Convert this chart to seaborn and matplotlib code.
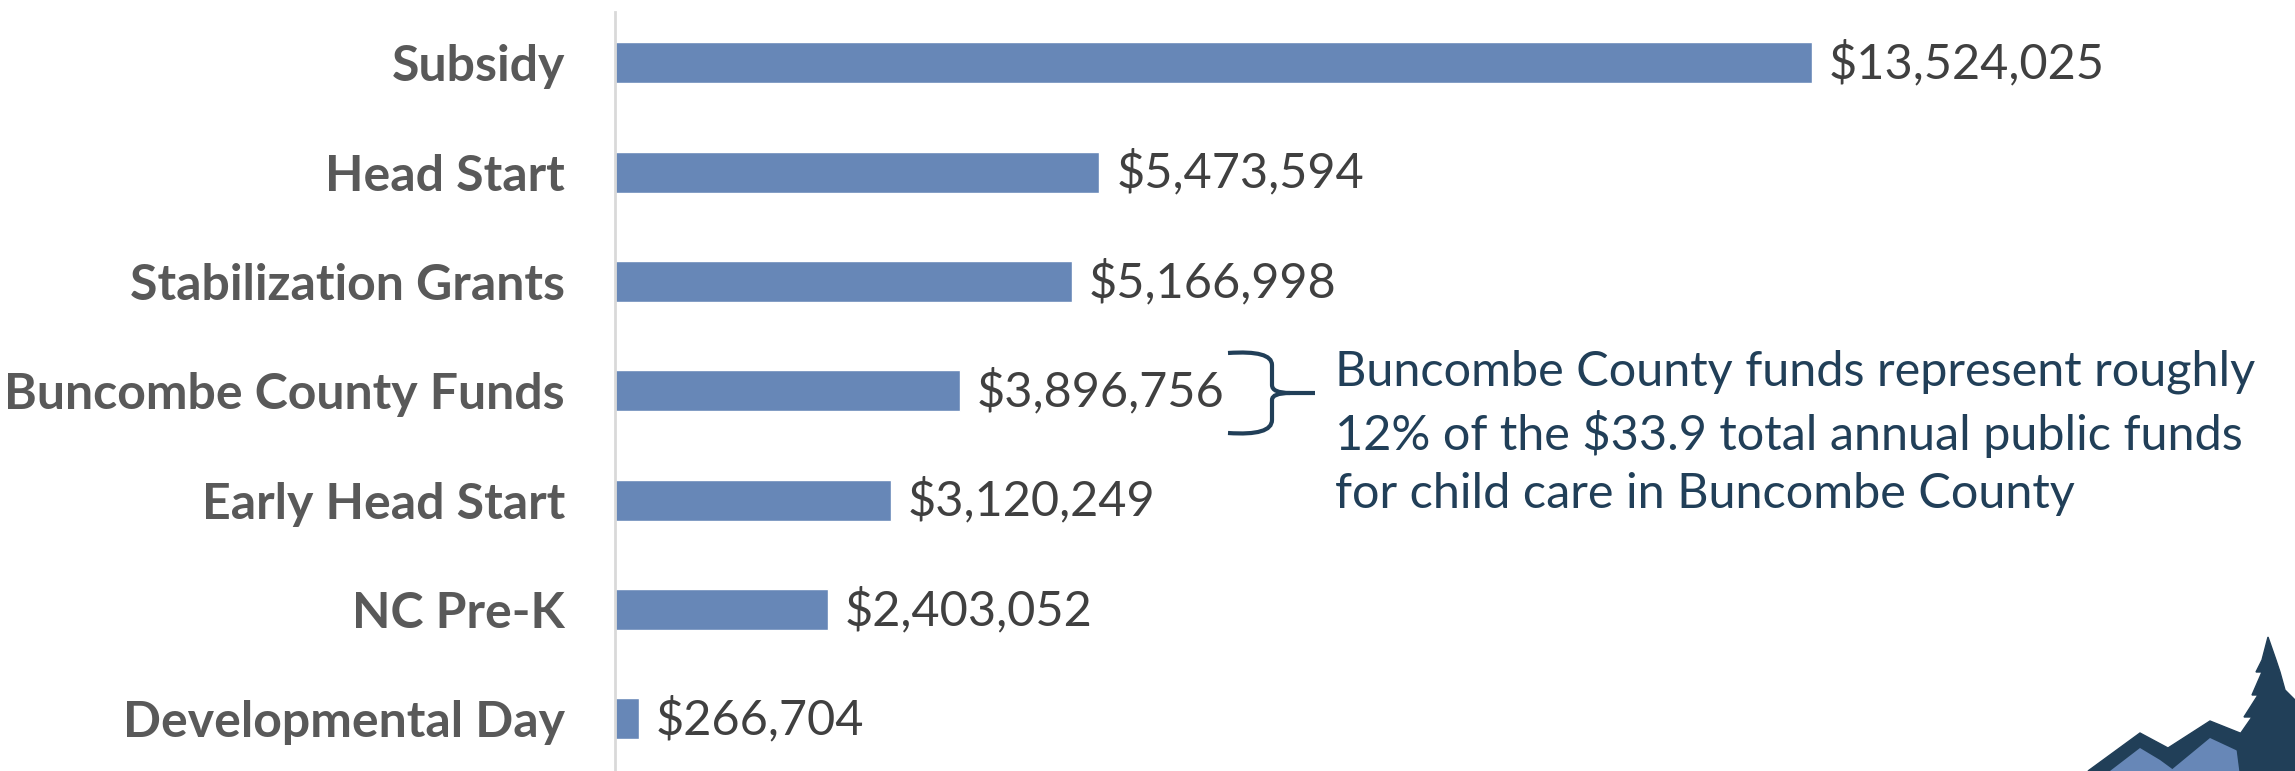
import matplotlib
matplotlib.use("Agg")
import matplotlib.pyplot as plt
import seaborn as sns
import pandas as pd
from matplotlib.patches import Polygon
from matplotlib.path import Path
from matplotlib.patches import PathPatch

sns.set_theme(style="white")
plt.rcParams['font.family'] = ['Lato', 'DejaVu Sans']

categories = ["Subsidy", "Head Start", "Stabilization Grants", "Buncombe County Funds",
              "Early Head Start", "NC Pre-K", "Developmental Day"]
amounts = [13524025, 5473594, 5166998, 3896756, 3120249, 2403052, 266704]
note_text = ("Buncombe County funds represent roughly\n"
             "12% of the $33.9 total annual public funds\n"
             "for child care in Buncombe County")

BAR = "#6787B7"
NAVY = "#213F58"

df = pd.DataFrame({"program": categories, "amount": amounts})

W, H = 2295, 771
fig = plt.figure(figsize=(W / 100, H / 100), dpi=100)
fig.patch.set_facecolor("white")
ax = fig.add_axes([615 / W, 0, (W - 615) / W, 1 - 12 / H])

sns.barplot(data=df, y="program", x="amount", orient="h", color=BAR,
            width=0.375, saturation=1, ax=ax)

ax.set_xlim(0, 18.98e6)
ax.set_ylim(6.476, -0.466)
ax.set_xlabel("")
ax.set_ylabel("")
ax.set_xticks([])
for s in ["top", "right", "bottom"]:
    ax.spines[s].set_visible(False)
ax.spines["left"].set_color("#D9D9D9")
ax.spines["left"].set_linewidth(2)
ax.tick_params(axis="y", length=0, pad=36)
ax.set_yticks(range(len(categories)))
ax.set_yticklabels(categories, fontsize=36, fontweight="bold", color="#595959")

for i, v in enumerate(amounts):
    ax.annotate(f"${v:,.0f}", xy=(v, i), xytext=(12, 0), textcoords="offset points",
                ha="left", va="center", fontsize=35, color="#404040")

# brace next to Buncombe County Funds
bx = fig.add_axes([0, 0, 1, 1], zorder=5)
bx.set_xlim(0, W)
bx.set_ylim(H, 0)
bx.axis("off")
verts = [(1228, 353), (1272, 350), (1272, 365), (1272, 385), (1272, 393), (1290, 393), (1315, 393),
         (1290, 393), (1272, 393), (1272, 400), (1272, 420), (1272, 436), (1228, 433)]
codes = [Path.MOVETO, Path.CURVE3, Path.CURVE3, Path.LINETO, Path.CURVE3, Path.CURVE3, Path.LINETO,
         Path.MOVETO, Path.CURVE3, Path.CURVE3, Path.LINETO, Path.CURVE3, Path.CURVE3]
bx.add_patch(PathPatch(Path(verts, codes), fill=False, edgecolor=NAVY, lw=3))
bx.text(1335, 433, note_text, ha="left", va="center", fontsize=35, color=NAVY,
        linespacing=1.4)

# logo fragment (bottom right)
bx.add_patch(Polygon([(2088, 771), (2140, 733), (2168, 748), (2210, 721), (2245, 735),
                      (2260, 771)], closed=True, facecolor=NAVY, edgecolor=NAVY))
bx.add_patch(Polygon([(2110, 771), (2140, 748), (2160, 760), (2175, 771)], closed=True,
                     facecolor=BAR, edgecolor="none"))
bx.add_patch(Polygon([(2170, 771), (2210, 738), (2240, 752), (2245, 771)], closed=True,
                     facecolor=BAR, edgecolor="none"))
bx.add_patch(Polygon([(2268, 637), (2262, 660), (2256, 672), (2262, 672), (2252, 695),
                      (2258, 695), (2244, 717), (2252, 717), (2236, 740), (2240, 771),
                      (2295, 771), (2295, 700), (2285, 690), (2280, 672), (2276, 660)],
                     closed=True, facecolor=NAVY, edgecolor=NAVY))

fig.savefig("out.png", dpi=100)
